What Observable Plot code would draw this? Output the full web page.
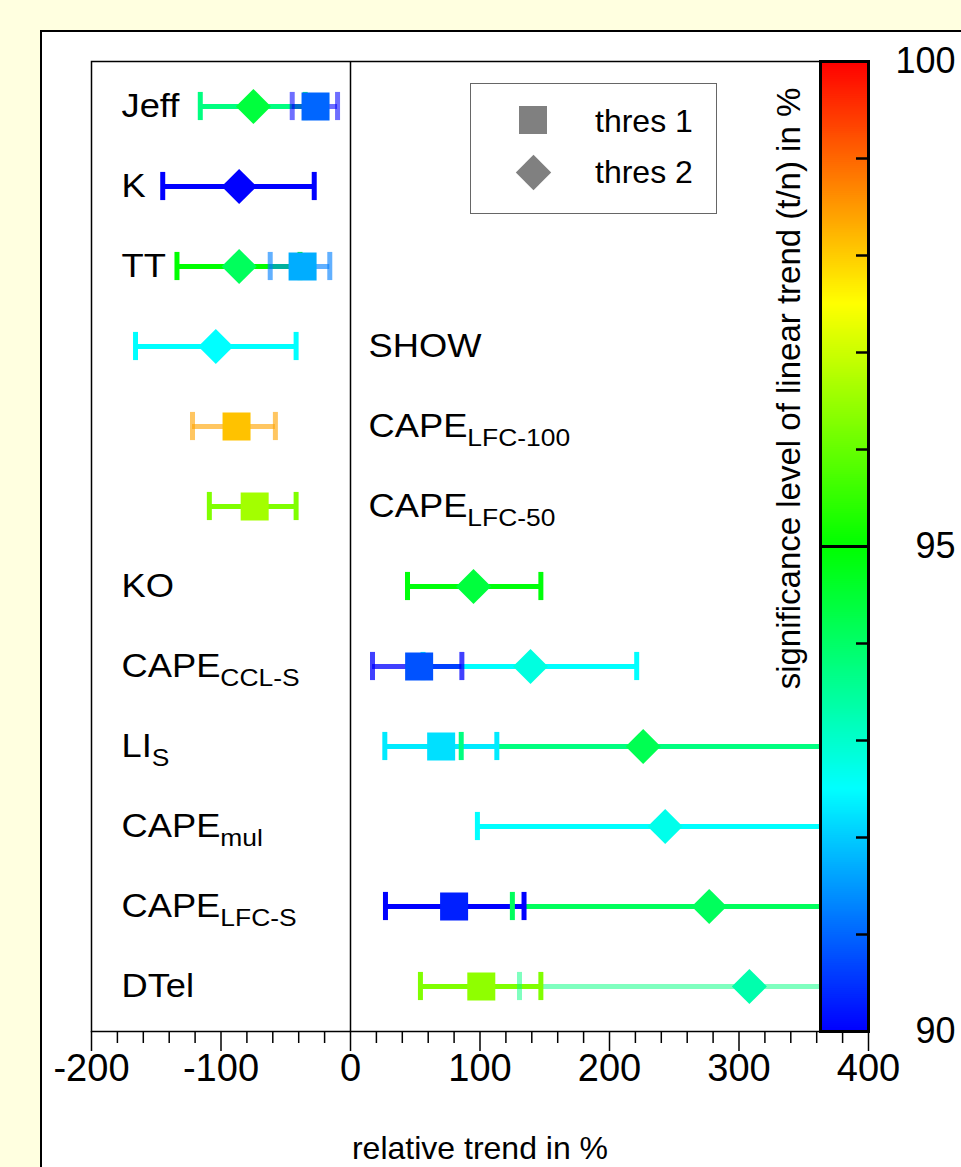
<!DOCTYPE html>
<html>
<head>
<meta charset="utf-8">
<script src="https://cdn.jsdelivr.net/npm/d3@7"></script>
<script src="https://cdn.jsdelivr.net/npm/@observablehq/plot@0.6"></script>
<style>
  html, body { margin: 0; padding: 0; background: #ffffe0; overflow: hidden; }
  #page { position: relative; width: 961px; height: 1167px; overflow: hidden; }
  #box { position: absolute; left: 40px; top: 30px; width: 1000px; height: 1200px; background: #fff; border: 2px solid #000; }
  .layer { position: absolute; left: 0; top: 0; }
  #legend { position: absolute; left: 470px; top: 83px; width: 245px; height: 129px; border: 1.5px solid #666; background: #fff;
            font-family: "Liberation Sans", Arial, sans-serif; font-size: 32px; color: #000; }
  #legend .sym { position: absolute; background: #808080; }
  #legend .lab { position: absolute; left: 124px; line-height: 32px; }
</style>
</head>
<body>
<div id="page">
  <div id="box"></div>
  <div id="main" class="layer"></div>
  <div id="cbar" class="layer"></div>
  <div id="legend">
    <div class="sym" style="left:48px; top:22px; width:28px; height:28px;"></div>
    <div class="lab" style="top:21px;">thres 1</div>
    <div class="sym" style="left:49.5px; top:76px; width:25px; height:25px; transform: rotate(45deg);"></div>
    <div class="lab" style="top:72px;">thres 2</div>
  </div>
</div>
<script>
// ---------- data ----------
const rows = ["Jeff", "K", "TT", "SHOW", "CAPE_LFC-100", "CAPE_LFC-50", "KO", "CAPE_CCL-S", "LI_S", "CAPE_mul", "CAPE_LFC-S", "DTel"];
const labelSide = ["left", "left", "left", "right", "right", "right", "left", "left", "left", "left", "left", "left"];

// thres 1 (squares)
const t1Row      = ["Jeff", "TT", "CAPE_LFC-100", "CAPE_LFC-50", "CAPE_CCL-S", "LI_S", "CAPE_LFC-S", "DTel"];
const t1Value    = [-27, -37, -88, -74, 53, 70, 80, 101];
const t1Lo       = [-45, -62, -122, -109, 17, 26.5, 27, 54];
const t1Hi       = [-10, -16, -58, -42, 86, 113, 134, 147];
const t1Sig      = [91.0, 91.7, 98.1, 96.6, 90.8, 92.2, 90.3, 96.4];
const t1BarSig   = [90.0, 91.25, 98.4, 96.25, 90.0, 92.3, 90.0, 96.25];
const t1BarAlpha = [0.57, 0.62, 0.62, 1, 0.75, 1, 1, 1];

// thres 2 (diamonds)
const t2Row      = ["Jeff", "K", "TT", "SHOW", "KO", "CAPE_CCL-S", "LI_S", "CAPE_mul", "CAPE_LFC-S", "DTel"];
const t2Value    = [-75, -86, -86, -104, 95, 139, 226, 243, 277, 308];
const t2Lo       = [-116, -145, -134, -166, 44, 56, 85.5, 98, 125, 130.5];
const t2Hi       = [-35, -28, -39, -42, 147, 221, 367, 388, 429, 485];
const t2Sig      = [94.4, 90.0, 94.1, 92.5, 94.4, 92.8, 94.2, 92.7, 94.1, 93.3];
const t2BarSig   = [93.75, 90.0, 95.0, 92.5, 94.9, 92.5, 93.75, 92.5, 94.1, 93.75];
const t2BarAlpha = [1, 1, 1, 1, 1, 1, 1, 1, 1, 0.5];

// axes / colour bar
const xMajor = [-200, -100, 0, 100, 200, 300, 400];
const xMinor = [-180, -160, -140, -120, -80, -60, -40, -20, 20, 40, 60, 80, 120, 140, 160, 180, 220, 240, 260, 280, 320, 340, 360, 380];
const cbStops  = [90, 92.5, 95, 97.5, 100];
const cbColors = ["#0000ff", "#00ffff", "#00ff00", "#ffff00", "#ff0000"];
const cbTicks  = [91, 92, 93, 94, 96, 97, 98, 99];
const cbLabels = [90, 95, 100];
const cbTitle  = "significance level of linear trend (t/n) in %";
const xTitle   = "relative trend in %";

// ---------- build ----------
const W = 961, H = 1167, mL = 91, mR = 93, mT = 61, mB = 136;
const FONT = "'Liberation Sans', Arial, sans-serif";
const bandH = (H - mT - mB) / rows.length;
const capInset = (bandH - 29) / 2;

const mk = (R, V, Lo, Hi, S, BS, BA, thres) => R.map((row, i) => ({row, thres, value: V[i], lo: Lo[i], hi: Hi[i], sig: S[i], barSig: BS[i], barAlpha: BA[i]}));
const t1 = mk(t1Row, t1Value, t1Lo, t1Hi, t1Sig, t1BarSig, t1BarAlpha, 1);
const t2 = mk(t2Row, t2Value, t2Lo, t2Hi, t2Sig, t2BarSig, t2BarAlpha, 2);
const labels = rows.map((row, i) => ({row, side: labelSide[i]}));
const colorScale = {type: "linear", domain: cbStops, range: cbColors, interpolate: "rgb"};

const barOpts = {y: "row", stroke: "barSig", strokeOpacity: "barAlpha", strokeWidth: 5, clip: true};
const capOpts = {y: "row", stroke: "barSig", strokeOpacity: "barAlpha", strokeWidth: 5, insetTop: capInset, insetBottom: capInset, clip: true};

const main = Plot.plot({
  width: W, height: H,
  marginLeft: mL, marginRight: mR, marginTop: mT, marginBottom: mB,
  style: {background: "transparent", fontFamily: FONT, color: "#000"},
  x: {domain: [-200, 400], label: null},
  y: {type: "band", domain: rows, padding: 0, axis: null},
  color: colorScale,
  opacity: {type: "identity"},
  marks: [
    Plot.ruleX([0], {stroke: "#000", strokeWidth: 1.5}),
    Plot.ruleY(t2, {...barOpts, x1: "lo", x2: "hi"}),
    Plot.ruleY(t1, {...barOpts, x1: "lo", x2: "hi"}),
    Plot.tickX(t2, {...capOpts, x: "lo"}),
    Plot.tickX(t2, {...capOpts, x: "hi"}),
    Plot.tickX(t1, {...capOpts, x: "lo"}),
    Plot.tickX(t1, {...capOpts, x: "hi"}),
    Plot.dot(t2, {x: "value", y: "row", fill: "sig", symbol: d3.symbolDiamond2, r: 15.8}),
    Plot.dot(t1, {x: "value", y: "row", fill: "sig", symbol: d3.symbolSquare, r: 15.8}),
    Plot.text(labels.filter(d => d.side === "left"), {y: "row", text: "row", frameAnchor: "left", dx: 30, textAnchor: "start", fontSize: 33, fill: "#000"}),
    Plot.text(labels.filter(d => d.side === "right"), {y: "row", x: () => 0, text: "row", dx: 18, textAnchor: "start", fontSize: 33, fill: "#000"}),
    Plot.axisX({ticks: xMinor, tickSize: 12, tickFormat: () => "", label: null, strokeWidth: 1.5}),
    Plot.axisX({ticks: xMajor, tickSize: 20, tickPadding: 3, tickFormat: d => String(d), fontSize: 38, label: null, strokeWidth: 1.5}),
    Plot.frame({stroke: "#000", strokeWidth: 1.5}),
    Plot.text([xTitle], {frameAnchor: "bottom", dy: 127, fontSize: 32, fill: "#000"})
  ]
});

// subscripts on row labels
const rowSet = new Set(rows);
const rowTexts = [];
for (const t of main.querySelectorAll("text")) {
  const s = t.textContent;
  if (!rowSet.has(s)) continue;
  rowTexts.push(t);
  const k = s.indexOf("_");
  if (k < 0) continue;
  t.textContent = s.slice(0, k);
  const ts = document.createElementNS("http://www.w3.org/2000/svg", "tspan");
  ts.setAttribute("font-size", "24");
  ts.setAttribute("dy", "9");
  ts.textContent = s.slice(k + 1);
  t.appendChild(ts);
}
document.getElementById("main").appendChild(main);
// the reference's row labels are set slightly wider than the plain font
for (const t of rowTexts) {
  const L = t.getComputedTextLength();
  t.setAttribute("textLength", (L * 1.1).toFixed(1));
  t.setAttribute("lengthAdjust", "spacingAndGlyphs");
}

// colour bar (legend) overlay
const cbSteps = d3.range(90, 100, 0.02);
const cbar = Plot.plot({
  width: W, height: H,
  marginLeft: 820, marginRight: mR, marginTop: mT, marginBottom: mB,
  style: {background: "transparent", fontFamily: FONT, color: "#000"},
  x: {domain: [0, 1], axis: null},
  y: {domain: [90, 100], axis: null},
  color: colorScale,
  marks: [
    Plot.rect(cbSteps, {x1: () => 0, x2: () => 1, y1: d => d, y2: d => Math.min(100, d + 0.03), fill: d => d + 0.01}),
    Plot.ruleY(cbTicks, {x1: () => 0.75, x2: () => 1, stroke: "#000", strokeWidth: 2.5}),
    Plot.ruleY([95], {stroke: "#000", strokeWidth: 3}),
    Plot.frame({stroke: "#000", strokeWidth: 3}),
    Plot.text(cbLabels, {y: d => d, text: d => String(d), frameAnchor: "right", dx: 87, textAnchor: "end", fontSize: 36, fill: "#000"}),
    Plot.text([cbTitle], {frameAnchor: "top-left", rotate: -90, dx: -44, dy: 327, textAnchor: "middle", fontSize: 33, fill: "#000"})
  ]
});
document.getElementById("cbar").appendChild(cbar);
</script>
</body>
</html>
